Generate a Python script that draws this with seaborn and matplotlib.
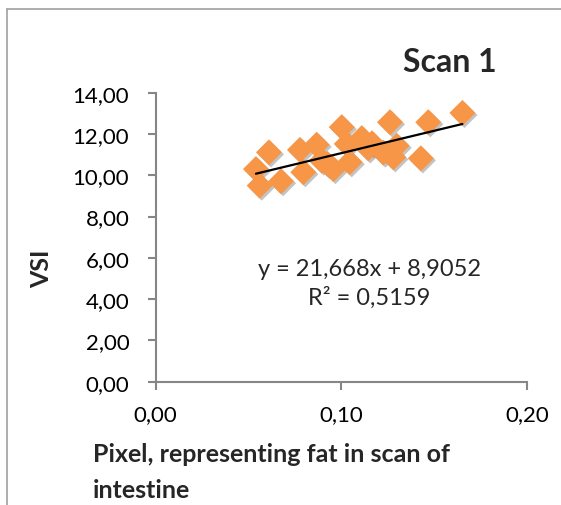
import matplotlib
matplotlib.use("Agg")
import matplotlib.pyplot as plt
import matplotlib.patheffects as pe
from matplotlib.lines import Line2D
import numpy as np
import pandas as pd
import seaborn as sns

# ---- data ----
pixel_fat = [0.054, 0.056, 0.061, 0.0675, 0.0777, 0.0795, 0.0867, 0.0894, 0.0925,
             0.0957, 0.1002, 0.1029, 0.1045, 0.111, 0.1145, 0.1165, 0.1226, 0.1262,
             0.128, 0.1298, 0.1428, 0.1468, 0.1652]
vsi = [10.30, 9.50, 11.11, 9.71, 11.23, 10.15, 11.48, 10.71, 10.55,
       10.30, 12.33, 11.52, 10.63, 11.80, 11.30, 11.55, 11.10, 12.57,
       10.87, 11.43, 10.82, 12.57, 13.02]
slope = 21.668
intercept = 8.9052
r_squared = "0,5159"
x_ticks = [0.0, 0.1, 0.2]
x_tick_labels = ["0,00", "0,10", "0,20"]
y_ticks = [0, 2, 4, 6, 8, 10, 12, 14]
y_tick_labels = ["0,00", "2,00", "4,00", "6,00", "8,00", "10,00", "12,00", "14,00"]
title = "Scan 1"
x_label = "Pixel, representing fat in scan of\nintestine"
y_label = "VSI"

sns.set_theme(style="white")
plt.rcParams["font.family"] = ["Lato", "DejaVu Sans"]

W, H = 561, 506
fig = plt.figure(figsize=(W / 100, H / 100), dpi=100)
ax = fig.add_axes([155.7 / W, 1 - 382.7 / H, (527 - 155.7) / W, (382.7 - 93.7) / H])

df = pd.DataFrame({"x": pixel_fat, "y": vsi})
sns.scatterplot(data=df, x="x", y="y", marker="D", s=175, color="#F79646",
                edgecolor="none", linewidth=0, ax=ax, zorder=3)
coll = ax.collections[-1]
coll.set_path_effects([pe.SimplePatchShadow(offset=(1.5, -1.5), shadow_rgbFace="#7a7a7a", alpha=0.45),
                       pe.Normal()])

xmin, xmax = min(pixel_fat), max(pixel_fat)
trend = pd.DataFrame({"x": [xmin, xmax], "y": [slope * xmin + intercept, slope * xmax + intercept]})
sns.lineplot(data=trend, x="x", y="y", color="black", linewidth=1.6, ax=ax, zorder=4)

ax.set_xlim(0, 0.2)
ax.set_ylim(0, 14)
ax.set_xticks(x_ticks)
ax.set_xticklabels(x_tick_labels)
ax.set_yticks(y_ticks)
ax.set_yticklabels(y_tick_labels)
ax.set_xlabel("")
ax.set_ylabel("")
for s in ["top", "right"]:
    ax.spines[s].set_visible(False)
for s in ["left", "bottom"]:
    ax.spines[s].set_color("#868686")
    ax.spines[s].set_linewidth(1.5)
ax.tick_params(axis="both", direction="out", length=6, width=1.5, color="#868686",
               labelsize=16, labelcolor="black")
ax.tick_params(axis="y", pad=13, left=True)
ax.tick_params(axis="x", pad=10, bottom=True)
ax.grid(False)
ax.set_facecolor("none")

fig.text(450 / W, 1 - 62 / H, title, ha="center", va="center", fontsize=23, fontweight="bold")
fig.text(42 / W, 1 - 269 / H, y_label, ha="center", va="center", rotation=90,
         fontsize=18, fontweight="bold")
xl_lines = x_label.split("\n")
fig.text(93 / W, 1 - 455 / H, xl_lines[0], ha="left", va="center", fontsize=18, fontweight="bold")
fig.text(93 / W, 1 - 491 / H, xl_lines[1], ha="left", va="center", fontsize=18, fontweight="bold")
fig.text(369 / W, 1 - 270 / H, f"y = {slope:.3f}x + {intercept:.4f}".replace(".", ","),
         ha="center", va="center", fontsize=17)
fig.text(369 / W, 1 - 298 / H, f"R² = {r_squared}", ha="center", va="center", fontsize=17)

# chart border (outer frame)
fig.add_artist(Line2D([7 / W, 7 / W], [0, 1 - 10 / H], color="#a0a0a0", linewidth=1.2))
fig.add_artist(Line2D([7 / W, 1], [1 - 10 / H, 1 - 10 / H], color="#a0a0a0", linewidth=1.2))

fig.savefig("out.png", dpi=100)
